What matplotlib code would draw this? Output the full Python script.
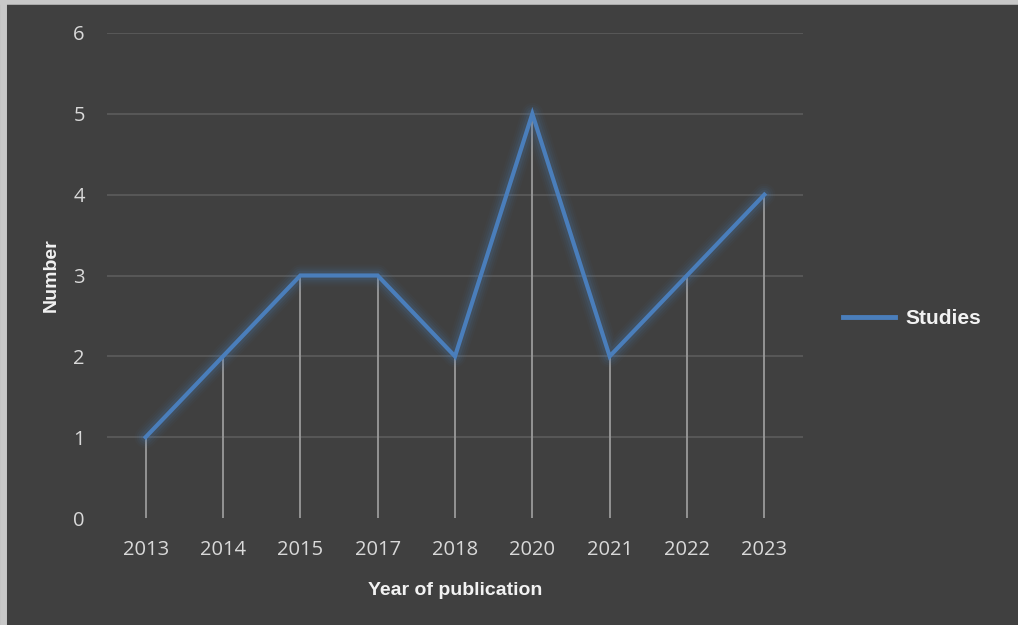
import numpy as np
import matplotlib
matplotlib.use("Agg")
import matplotlib.pyplot as plt
from matplotlib.lines import Line2D

# data
years = ["2013", "2014", "2015", "2017", "2018", "2020", "2021", "2022", "2023"]
studies = [1, 2, 3, 3, 2, 5, 2, 3, 4]
yticks = [0, 1, 2, 3, 4, 5, 6]

bg = "#404040"
blue = "#4a7ebb"
txt = "#d9d9d9"

fig = plt.figure(figsize=(10.18, 6.25), dpi=100, facecolor=bg)
ax = fig.add_axes([0.1051, 0.1712, 0.6837, 0.776])
ax.set_facecolor(bg)

x = np.arange(len(years))

# horizontal gridlines
for v in yticks[1:]:
    ax.axhline(v, color="#5c5c5c", lw=1.2, zorder=1)

# drop lines from points down to the axis
ax.vlines(x, 0, studies, color="#9a9a9a", lw=1.3, zorder=2)

# soft glow around the line
for w, a in [(16, 0.04), (13, 0.06), (10, 0.08), (7, 0.12)]:
    ax.plot(x, studies, color=blue, lw=w, alpha=a, solid_capstyle="round",
            solid_joinstyle="round", zorder=3)
ax.plot(x, studies, color=blue, lw=3, solid_joinstyle="miter", zorder=4)

ax.set_xlim(-0.5, len(years) - 0.5)
ax.set_ylim(0, 6)
ax.set_xticks(x)
ax.set_xticklabels(years)
ax.set_yticks(yticks)
ax.tick_params(length=0, colors=txt, labelsize=14.5)
ax.tick_params(axis="x", pad=16)
ax.tick_params(axis="y", pad=16)
for lab in ax.get_xticklabels() + ax.get_yticklabels():
    lab.set_fontfamily("Open Sans")
for s in ax.spines.values():
    s.set_visible(False)

ax.set_xlabel("Year of publication", color="#f2f2f2", fontsize=14,
              fontweight="bold", family="Liberation Sans", labelpad=16)
ax.set_ylabel("Number", color="#f2f2f2", fontsize=14,
              fontweight="bold", family="Liberation Sans", labelpad=10)

handle = Line2D([], [], color=blue, lw=3.5)
leg = fig.legend([handle], ["Studies"], loc="center left",
                 bbox_to_anchor=(0.81, 0.49), frameon=False,
                 handlelength=2.5, handletextpad=0.5,
                 prop={"family": "Liberation Sans", "weight": "bold", "size": 15})
for t in leg.get_texts():
    t.set_color("#f2f2f2")

# light border on top and left like the original screenshot
fig.add_artist(plt.Line2D([0.003, 0.003], [0, 1], color="#c8c8c8", lw=5,
                          transform=fig.transFigure))
fig.add_artist(plt.Line2D([0, 1], [0.997, 0.997], color="#c8c8c8", lw=4,
                          transform=fig.transFigure))

fig.savefig("out.png", dpi=100, facecolor=bg)
